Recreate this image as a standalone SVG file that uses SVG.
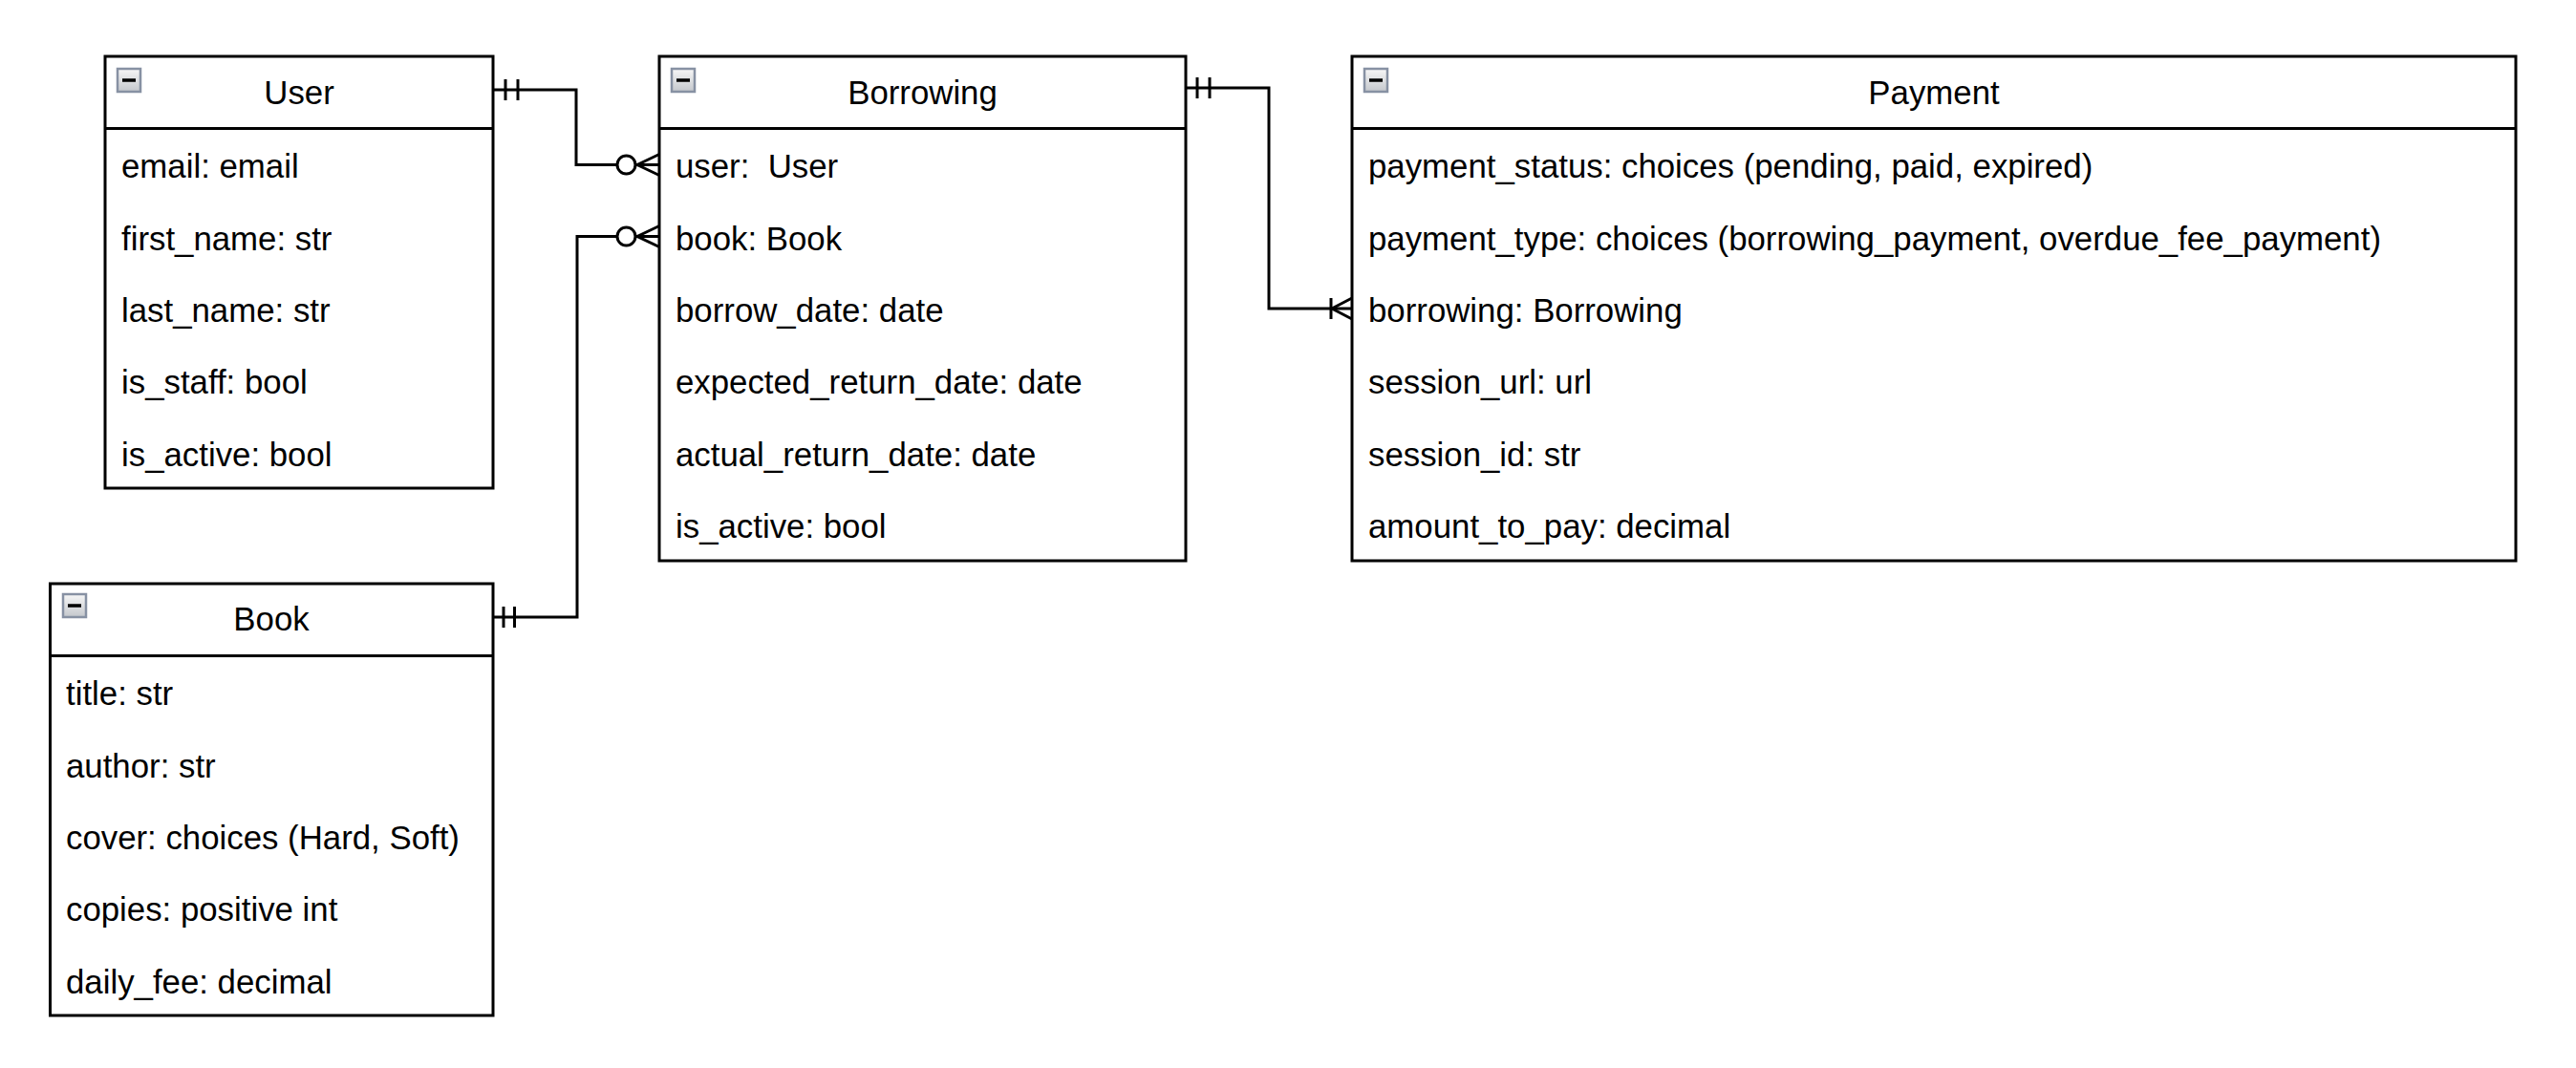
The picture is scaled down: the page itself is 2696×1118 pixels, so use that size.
<svg xmlns="http://www.w3.org/2000/svg" width="2696" height="1118" viewBox="0 0 2696 1118">
<style>
.box{fill:#ffffff;stroke:#000000;stroke-width:3}
.sep{stroke:#000000;stroke-width:3}
.t{font-family:"Liberation Sans",Arial,Helvetica,sans-serif;font-size:34.8px;fill:#000000}
.title{text-anchor:middle}
.edge{fill:none;stroke:#000000;stroke-width:3}
.circ{fill:#ffffff;stroke:#000000;stroke-width:3}
.icb{fill:url(#ig);stroke:#8791a3;stroke-width:2.5}
.icm{stroke:#000000;stroke-width:3.5}
</style>
<defs>
<linearGradient id="ig" x1="0" y1="0" x2="0" y2="1">
<stop offset="0" stop-color="#f7f7f7"/>
<stop offset="1" stop-color="#c4c7cc"/>
</linearGradient>
<g id="icon">
<rect class="icb" x="0" y="0" width="24" height="24"/>
<line class="icm" x1="5" y1="12" x2="19" y2="12"/>
</g>
</defs>
<rect width="2696" height="1118" fill="#ffffff"/>

<g id="connectors">
<g id="user-borrowing">
<path class="edge" d="M516,94 H603 V172.5 H690"/>
<line class="edge" x1="529" y1="83" x2="529" y2="105"/>
<line class="edge" x1="542" y1="83" x2="542" y2="105"/>
<circle class="circ" cx="655.5" cy="172.5" r="9.5"/>
<path class="edge" d="M690,161.5 L667,172.5 L690,183.5"/>
</g>
<g id="book-borrowing">
<path class="edge" d="M516,646 H604 V247.5 H690"/>
<line class="edge" x1="527" y1="635" x2="527" y2="657"/>
<line class="edge" x1="538.5" y1="635" x2="538.5" y2="657"/>
<circle class="circ" cx="655.5" cy="247.5" r="9.5"/>
<path class="edge" d="M690,236.5 L667,247.5 L690,258.5"/>
</g>
<g id="borrowing-payment">
<path class="edge" d="M1241,92 H1328 V323 H1415"/>
<line class="edge" x1="1253" y1="81" x2="1253" y2="103"/>
<line class="edge" x1="1266" y1="81" x2="1266" y2="103"/>
<line class="edge" x1="1393" y1="312" x2="1393" y2="334"/>
<path class="edge" d="M1415,312 L1394,323 L1415,334"/>
</g>
</g>

<g id="user">
<rect class="box" x="110" y="59" width="406" height="452"/>
<line class="sep" x1="110" y1="134.5" x2="516" y2="134.5"/>
<use href="#icon" x="123" y="72"/>
<text class="t title" x="313" y="109">User</text>
<text class="t" x="127" y="186.2">email: email</text>
<text class="t" x="127" y="261.6">first_name: str</text>
<text class="t" x="127" y="337">last_name: str</text>
<text class="t" x="127" y="412.4">is_staff: bool</text>
<text class="t" x="127" y="487.8">is_active: bool</text>
</g>

<g id="borrowing">
<rect class="box" x="690" y="59" width="551" height="528"/>
<line class="sep" x1="690" y1="134.5" x2="1241" y2="134.5"/>
<use href="#icon" x="703" y="72"/>
<text class="t title" x="965.5" y="109">Borrowing</text>
<text class="t" x="707" y="186.2" xml:space="preserve">user:  User</text>
<text class="t" x="707" y="261.6">book: Book</text>
<text class="t" x="707" y="337">borrow_date: date</text>
<text class="t" x="707" y="412.4">expected_return_date: date</text>
<text class="t" x="707" y="487.8">actual_return_date: date</text>
<text class="t" x="707" y="563.2">is_active: bool</text>
</g>

<g id="payment">
<rect class="box" x="1415" y="59" width="1218" height="528"/>
<line class="sep" x1="1415" y1="134.5" x2="2633" y2="134.5"/>
<use href="#icon" x="1428" y="72"/>
<text class="t title" x="2024" y="109">Payment</text>
<text class="t" x="1432" y="186.2">payment_status: choices (pending, paid, expired)</text>
<text class="t" x="1432" y="261.6">payment_type: choices (borrowing_payment, overdue_fee_payment)</text>
<text class="t" x="1432" y="337">borrowing: Borrowing</text>
<text class="t" x="1432" y="412.4">session_url: url</text>
<text class="t" x="1432" y="487.8">session_id: str</text>
<text class="t" x="1432" y="563.2">amount_to_pay: decimal</text>
</g>

<g id="book">
<rect class="box" x="52.5" y="611" width="463.5" height="452"/>
<line class="sep" x1="52.5" y1="686.5" x2="516" y2="686.5"/>
<use href="#icon" x="66" y="622"/>
<text class="t title" x="284" y="660">Book</text>
<text class="t" x="69" y="738.2">title: str</text>
<text class="t" x="69" y="813.6">author: str</text>
<text class="t" x="69" y="889">cover: choices (Hard, Soft)</text>
<text class="t" x="69" y="964.4">copies: positive int</text>
<text class="t" x="69" y="1039.8">daily_fee: decimal</text>
</g>
</svg>
